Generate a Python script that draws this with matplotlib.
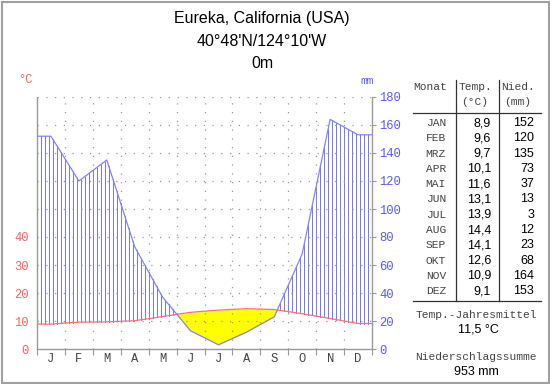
import numpy as np
import matplotlib
matplotlib.use('Agg')
import matplotlib.pyplot as plt
from matplotlib.patches import Rectangle

# Climate data, Eureka, California
months = ['J', 'F', 'M', 'A', 'M', 'J', 'J', 'A', 'S', 'O', 'N', 'D']
month_names = ['JAN', 'FEB', 'MRZ', 'APR', 'MAI', 'JUN',
               'JUL', 'AUG', 'SEP', 'OKT', 'NOV', 'DEZ']
temp = [8.9, 9.6, 9.7, 10.1, 11.6, 13.1, 13.9, 14.4, 14.1, 12.6, 10.9, 9.1]
precip = [152, 120, 135, 73, 37, 13, 3, 12, 23, 68, 164, 153]
temp_mean = '11,5 °C'
precip_sum = '953 mm'

title_lines = ['Eureka, California (USA)', "40°48'N/124°10'W", '0m']

MONO = 'Liberation Mono'
SANS = 'Liberation Sans'
RED = '#ff6060'
BLUE = '#5a5aff'
LBLUE = '#8282ff'
GRAY = '#999999'
TXT = '#444444'

fig = plt.figure(figsize=(5.5, 3.84), dpi=100)
W, H = 550.0, 384.0

# frame around the whole picture
fig.patches.append(Rectangle((1.5/W, 1.5/H), 1-3/W, 1-3/H, transform=fig.transFigure,
                             fill=False, edgecolor='#a0a0a0', lw=1.5))

ax = fig.add_axes([37/W, 1-349/H, (372-37)/W, (349-97)/H])
ax.set_xlim(0, 12)
ax.set_ylim(0, 180)

# curves: month centres, held flat to the edges
x = np.concatenate([[0], np.arange(12) + 0.5, [12]])
p = np.array([precip[0]] + precip + [precip[-1]], dtype=float)
t = 2*np.array([temp[0]] + temp + [temp[-1]], dtype=float)  # 10 degC = 20 mm

# dry season
ax.fill_between(x, p, t, where=p < t, interpolate=True, color='#ffff00', lw=0, zorder=1)

# humid season hatching
hx = np.arange(0, 12.001, 1/7)
hp = np.interp(hx, x, p)
ht = np.interp(hx, x, t)
m = hp > ht
ax.vlines(hx[m], ht[m], hp[m], color='#7878ff', lw=0.72, antialiased=False, zorder=1)

# dotted grid
for yy in range(20, 181, 20):
    ax.plot([0, 12], [yy, yy], color=GRAY, lw=0.9, ls=(0, (1, 6)), zorder=2)
for xx in range(1, 12):
    ax.plot([xx, xx], [0, 180], color=GRAY, lw=0.9, ls=(0, (1, 6)), zorder=2)

ax.plot(x, t, color='#ff7070', lw=0.9, zorder=3)
ax.plot(x, p, color=LBLUE, lw=0.9, zorder=4)

ax.spines['top'].set_visible(False)
for s in ['left', 'right', 'bottom']:
    ax.spines[s].set_color(GRAY)
    ax.spines[s].set_linewidth(1.0)

ax.set_xticks(range(13))
ax.set_xticklabels([])
ax.set_xticks(np.arange(12) + 0.5, minor=True)
ax.set_xticklabels(months, minor=True, fontfamily=MONO, fontsize=8.7, color=TXT)
ax.tick_params(axis='x', which='major', length=4, color=GRAY, direction='out')
ax.tick_params(axis='x', which='minor', length=0, pad=3)

ax.set_yticks([0, 20, 40, 60, 80])
ax.set_yticklabels(['0', '10', '20', '30', '40'], fontfamily=MONO, fontsize=8.7, color=RED)
ax.tick_params(axis='y', length=0, pad=6)

ax2 = ax.twinx()
ax2.set_ylim(0, 180)
ax2.set_yticks(range(0, 181, 20))
ax2.set_yticklabels([str(v) for v in range(0, 181, 20)], fontfamily=MONO, fontsize=8.7, color=BLUE)
ax2.tick_params(axis='y', length=3, color=GRAY, pad=2)
for s in ax2.spines.values():
    s.set_visible(False)

fig.text(25/W, 1-80/H, '°C', fontfamily=MONO, fontsize=8.7, color=RED, ha='center', va='center')
fig.text(367/W, 1-81/H, 'mm', fontfamily=MONO, fontsize=8, color=BLUE, ha='center', va='center')

# titles
for ty, txt in zip([18, 42, 63], title_lines):
    fig.text(262/W, 1-ty/H, txt, fontfamily=SANS, fontsize=11.5, ha='center', va='center')

# table
fig.text(430/W, 1-87/H, 'Monat', fontfamily=MONO, fontsize=8.1, color=TXT, ha='center', va='center')
fig.text(475/W, 1-87/H, 'Temp.', fontfamily=MONO, fontsize=8.1, color=TXT, ha='center', va='center')
fig.text(475/W, 1-102/H, '(°C)', fontfamily=MONO, fontsize=8.1, color=TXT, ha='center', va='center')
fig.text(518/W, 1-87/H, 'Nied.', fontfamily=MONO, fontsize=8.1, color=TXT, ha='center', va='center')
fig.text(518/W, 1-102/H, '(mm)', fontfamily=MONO, fontsize=8.1, color=TXT, ha='center', va='center')

fig.add_artist(plt.Line2D([413/W, 541/W], [1-113/H, 1-113/H], color='#333333', lw=0.9))
fig.add_artist(plt.Line2D([413/W, 541/W], [1-300.5/H, 1-300.5/H], color='#333333', lw=0.9))
fig.add_artist(plt.Line2D([456/W, 456/W], [1-80/H, 1-300.5/H], color='#333333', lw=0.9))
fig.add_artist(plt.Line2D([499/W, 499/W], [1-80/H, 1-300.5/H], color='#333333', lw=0.9))

for i in range(12):
    ry = 123 + i*15.3
    fig.text(446/W, 1-ry/H, month_names[i], fontfamily=MONO, fontsize=8.1, color=TXT,
             ha='right', va='center')
    fig.text(491/W, 1-ry/H, ('%.1f' % temp[i]).replace('.', ','), fontfamily=SANS, fontsize=9,
             ha='right', va='center')
    fig.text(534/W, 1-ry/H, str(precip[i]), fontfamily=SANS, fontsize=9,
             ha='right', va='center')

fig.text(476/W, 1-315/H, 'Temp.-Jahresmittel', fontfamily=MONO, fontsize=8.1, color=TXT,
         ha='center', va='center')
fig.text(478/W, 1-330/H, temp_mean, fontfamily=SANS, fontsize=9, ha='center', va='center')
fig.text(476/W, 1-357/H, 'Niederschlagssumme', fontfamily=MONO, fontsize=8.1, color=TXT,
         ha='center', va='center')
fig.text(476/W, 1-372/H, precip_sum, fontfamily=SANS, fontsize=9, ha='center', va='center')

fig.savefig('out.png', dpi=100)
